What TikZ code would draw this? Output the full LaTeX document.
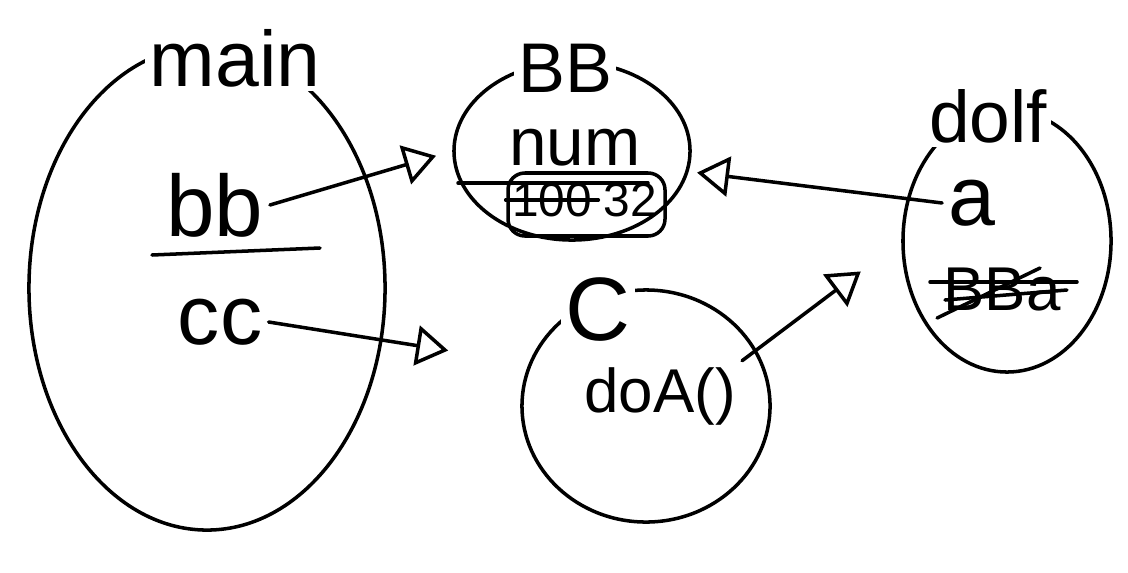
\documentclass[tikz,border=0pt]{standalone}
\usepackage{fontspec}
\setmainfont{Liberation Sans}
\usetikzlibrary{arrows.meta,shapes.geometric}

\begin{document}
\begin{tikzpicture}[x=0.025cm,y=-0.025cm,line width=2.5pt,line cap=round,line join=round,>={Triangle[open,length=8mm,width=10mm]},blob/.style={draw,ellipse,inner sep=0pt},ttl/.style={fill=white,inner sep=3pt},fs/.style={font=\fontsize{#1}{#1}\selectfont}]
\useasboundingbox (0,0) rectangle (1128,572);
\node[blob,minimum width=8.9cm,minimum height=12.1cm] (main) at (207,288) {};
\node[blob,minimum width=5.9cm,minimum height=4.45cm] (BB) at (572,151) {};
\node[blob,minimum width=6.2cm,minimum height=5.8cm] (C) at (646,406) {};
\node[blob,minimum width=5.2cm,minimum height=6.55cm] (D) at (1007,241) {};
\node[ttl,fs=56] (mainttl) at (235,58) {main};
\node[ttl,fs=50] (BBttl) at (565,68) {BB};
\node[ttl,fs=64] (Cttl) at (598,310) {C};
\node[ttl,fs=52] (Dttl) at (988,116) {dolf};
\node[fs=62] (bb) at (215,205) {bb};
\draw (152,255)--(320,248);
\node[fs=60] (cc) at (220,322) {cc};
\node[fs=48] (num) at (575,148) {num};
\draw[rounded corners=12pt] (508,173) rectangle (665,236);
\node[fs=34] (oldval) at (552,200) {100};
\node[fs=34] (newval) at (630,200) {32};
\draw (oldval.west)--(oldval.east);
\draw (458,183)--(648,183);
\node[fs=44] (doA) at (660,396) {doA()};
\node[fs=60] (a) at (972,203) {a};
\node[fs=44] (bba) at (1002,290) {BBa};
\draw (930,282)--(1077,282);
\draw (bba.south west)--(1040,268);
\draw (945,300)--(bba.east);
\draw[->,shorten >=12] (bb.east)--(BB.west);
\draw[->,shorten >=58] (cc.east)--(C.160);
\draw[->,shorten >=36] (doA.north east)--(D.west);
\draw[->,shorten >=6] (a.west)--(BB.-10);
\end{tikzpicture}
\end{document}
